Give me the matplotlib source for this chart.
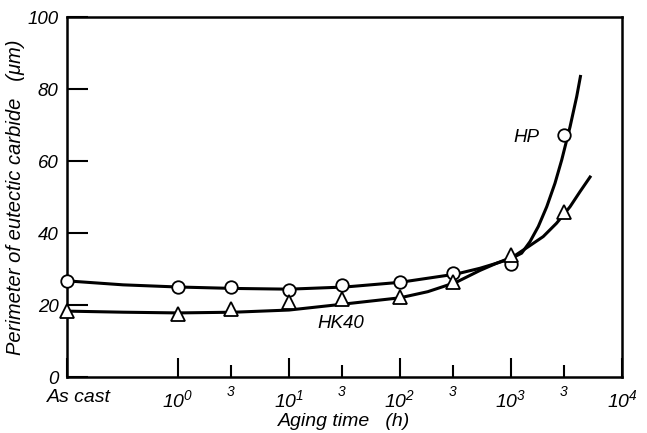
import matplotlib
matplotlib.use("Agg")
import matplotlib.pyplot as plt
from matplotlib.transforms import ScaledTranslation

# aging time in hours; "As cast" is placed at 0.1 h
data_time = [0.1, 1, 3, 10, 30, 100, 300, 1000, 3000]
hp_data = [26.7, 25.0, 25.0, 24.2, 25.6, 26.4, 29.0, 31.4, 67.2]
hk40_data = [18.3, 17.5, 18.9, 20.8, 21.7, 22.3, 26.4, 33.9, 45.8]

# hand-drawn trend curves
hp_curve_t = [0.1, 0.32, 1, 3.2, 10, 32, 100, 320, 525, 741, 1000, 1247,
              1483, 1762, 2099, 2489, 2864, 3404, 3908, 4246]
hp_curve_v = [26.7, 25.6, 25.0, 24.6, 24.4, 25.0, 26.3, 28.6, 30.2, 31.6, 32.9,
              34.4, 37.6, 41.8, 47.3, 53.8, 60.3, 69.5, 77.9, 83.9]
hk40_curve_t = [0.1, 0.32, 1, 3.2, 10, 32, 100, 178, 320, 525, 741, 1047,
                1432, 1950, 2570, 3404, 4188, 5248]
hk40_curve_v = [18.3, 18.0, 17.8, 18.0, 18.6, 20.3, 22.0, 23.7, 26.3, 29.6,
                31.6, 33.4, 36.2, 39.0, 42.7, 47.3, 51.5, 55.9]

major_t = [0.1, 1, 10, 100, 1000, 10000]
major_labels = ["As cast", "$10^{0}$", "$10^{1}$", "$10^{2}$", "$10^{3}$", "$10^{4}$"]
minor_t = [3, 30, 300, 3000]
y_ticks = [0, 20, 40, 60, 80, 100]

plt.rcParams["font.family"] = "Liberation Sans"
plt.rcParams["font.style"] = "italic"
plt.rcParams["mathtext.fontset"] = "custom"
plt.rcParams["mathtext.rm"] = "Liberation Sans:italic"
plt.rcParams["mathtext.it"] = "Liberation Sans:italic"
plt.rcParams["mathtext.default"] = "it"

fig = plt.figure(figsize=(6.47, 4.33), dpi=100)
ax = fig.add_axes([67 / 647, 1 - 377 / 433, 555 / 647, 360 / 433])

ax.plot(hp_curve_t, hp_curve_v, color="black", lw=2.2, solid_capstyle="butt")
ax.plot(hk40_curve_t, hk40_curve_v, color="black", lw=2.2, solid_capstyle="butt")
ax.plot(data_time, hp_data, "o", ms=9, mfc="white", mec="black", mew=1.3,
        clip_on=False, zorder=5)
ax.plot(data_time, hk40_data, "^", ms=10, mfc="white", mec="black", mew=1.3,
        clip_on=False, zorder=5)

ax.set_xscale("log")
ax.set_xlim(0.1, 10000)
ax.set_ylim(0, 100)

ax.set_xticks(major_t)
ax.set_xticklabels(major_labels, fontsize=14)
ax.set_xticks(minor_t, minor=True)
ax.set_xticklabels(["3"] * len(minor_t), minor=True, fontsize=10)
ax.tick_params(axis="x", which="major", direction="in", length=14, width=1.5, pad=9)
ax.tick_params(axis="x", which="minor", direction="in", length=9, width=1.5, pad=6)
ax.set_yticks(y_ticks)
ax.set_yticklabels([str(v) for v in y_ticks], fontsize=13.5)
ax.tick_params(axis="y", direction="in", length=15, width=1.5, pad=6)
ax.yaxis.set_minor_locator(plt.NullLocator())

# "As cast" sits a little right of the axis corner
first = ax.get_xticklabels()[0]
first.set_transform(first.get_transform() + ScaledTranslation(0.12, 0, fig.dpi_scale_trans))

for s in ax.spines.values():
    s.set_linewidth(1.8)

ax.set_xlabel("Aging time   (h)", fontsize=14, labelpad=1)
ax.set_ylabel("Perimeter of eutectic carbide   (μm)", fontsize=14.5)
ax.yaxis.set_label_coords(-0.076, 0.5)

ax.text(1390, 66.4, "HP", fontsize=13.5, ha="center", va="center")
ax.text(29, 15.0, "HK40", fontsize=13.5, ha="center", va="center")

fig.savefig("out.png", dpi=100)
